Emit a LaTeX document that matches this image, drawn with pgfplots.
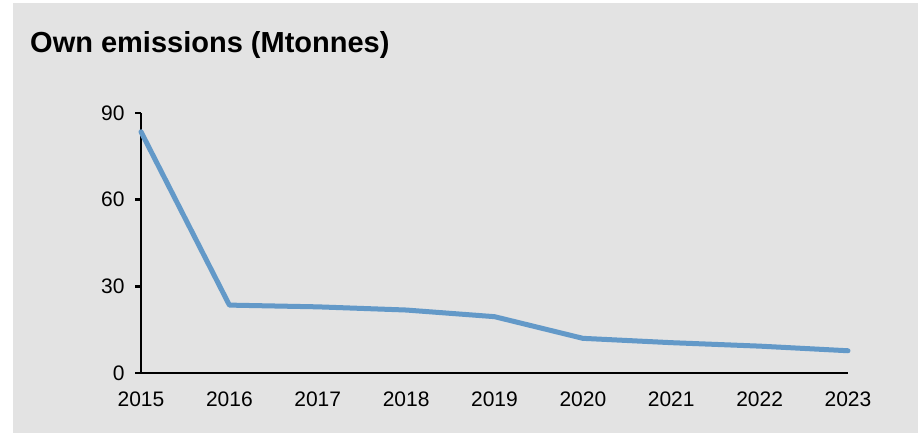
\documentclass[border=0pt]{standalone}
\usepackage{fontspec}
\setmainfont{Liberation Sans}
\usepackage{pgfplots}
\pgfplotsset{compat=1.18}

\definecolor{bggray}{RGB}{227,227,227}
\definecolor{lineblue}{RGB}{99,153,200}

\begin{document}
\begin{tikzpicture}[x=1pt,y=1pt]
\fill[white] (0,0) rectangle (918,433);
\fill[bggray] (13,0) rectangle (918,430);
\useasboundingbox (0,0) rectangle (918,433);
\node[anchor=base west,inner sep=0pt,font=\fontsize{29}{34}\selectfont\bfseries] at (30,380) {Own emissions (Mtonnes)};
\begin{axis}[
    at={(141pt,60pt)}, anchor=origin,
    scale only axis,
    width=707pt, height=260pt,
    xmin=2015, xmax=2023,
    ymin=0, ymax=90,
    axis lines=left,
    axis line style={line width=2.4pt,-},
    xtick={2015,2016,...,2023},
    ytick={0,30,60,90},
    major x tick style={draw=none},
    major y tick style={line width=2.4pt,black},
    major tick length=6pt,
    tick align=outside,
    ticklabel style={font=\fontsize{21}{24}\selectfont},
    /pgf/number format/assume math mode=true,
    /pgf/number format/1000 sep={},
    xticklabel style={yshift=-9pt},
    yticklabel style={xshift=-7pt},
    clip=false,
]
\addplot[lineblue, line width=5pt, line cap=round, line join=round]
    coordinates {(2015,83.5) (2016,23.5) (2017,22.9) (2018,21.8) (2019,19.5)
                 (2020,12.0) (2021,10.5) (2022,9.3) (2023,7.7)};
\end{axis}
\end{tikzpicture}
\end{document}
